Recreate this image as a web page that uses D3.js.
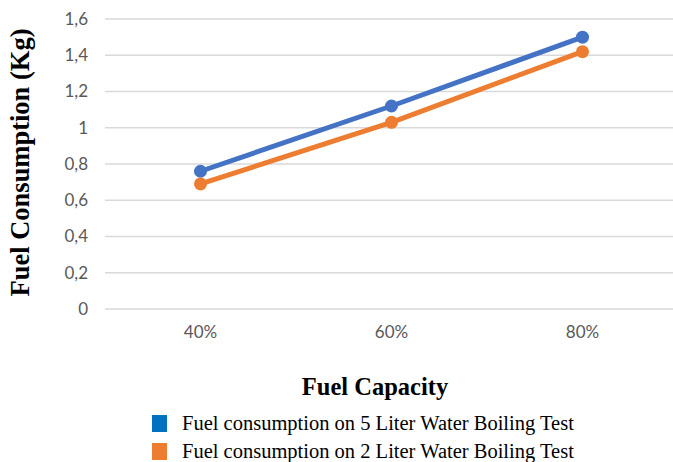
<!DOCTYPE html>
<html>
<head>
<meta charset="utf-8">
<script src="https://cdn.jsdelivr.net/npm/d3@7"></script>
<style>
  html, body { margin: 0; padding: 0; background: #fff; }
  svg { display: block; }
</style>
</head>
<body>
<svg id="chart" width="673" height="462"></svg>
<script>
// Fuel consumption by fuel capacity for two water boiling tests
const categories = ["40%", "60%", "80%"];
const seriesNames = [
  "Fuel consumption on 5 Liter Water Boiling Test",
  "Fuel consumption on 2 Liter Water Boiling Test"
];
const fiveLiter = [0.76, 1.12, 1.5];
const twoLiter = [0.69, 1.03, 1.42];
const yTicks = [0, 0.2, 0.4, 0.6, 0.8, 1, 1.2, 1.4, 1.6];

const lineColors = ["#4472C4", "#ED7D31"];
const legendColors = ["#0070C0", "#ED7D31"];

const svg = d3.select("#chart");
const plot = { left: 105, right: 678, top: 19, bottom: 309 };

const x = d3.scaleBand().domain(categories).range([plot.left, plot.right]);
const y = d3.scaleLinear().domain([0, 1.6]).range([plot.bottom, plot.top]);

const fmt = v => String(v).replace(".", ",");
const tickFont = "Lato, 'Open Sans', sans-serif";
const serif = "'Liberation Serif', 'Times New Roman', serif";

// horizontal gridlines
svg.append("g")
  .selectAll("line")
  .data(yTicks)
  .join("line")
  .attr("x1", plot.left).attr("x2", 673)
  .attr("y1", d => y(d)).attr("y2", d => y(d))
  .attr("stroke", "#d9d9d9").attr("stroke-width", 1.3);

// y axis tick labels
const yAxis = svg.append("g")
  .attr("transform", `translate(${plot.left - 17},0)`)
  .call(d3.axisLeft(y).tickValues(yTicks).tickFormat(fmt).tickSize(0).tickPadding(0));
yAxis.select(".domain").remove();
yAxis.selectAll("text")
  .attr("font-family", tickFont)
  .attr("font-size", 17)
  .attr("fill", "#595959");

// x axis tick labels
const xAxis = svg.append("g")
  .attr("transform", `translate(0,${plot.bottom + 17})`)
  .call(d3.axisBottom(x).tickSize(0).tickPadding(0));
xAxis.select(".domain").remove();
xAxis.selectAll("text")
  .attr("font-family", tickFont)
  .attr("font-size", 17)
  .attr("fill", "#595959");

// series lines and markers
const line = d3.line()
  .x((d, i) => x(categories[i]) + x.bandwidth() / 2)
  .y(d => y(d));

[fiveLiter, twoLiter].forEach((vals, s) => {
  const g = svg.append("g");
  g.append("path")
    .datum(vals)
    .attr("d", line)
    .attr("fill", "none")
    .attr("stroke", lineColors[s])
    .attr("stroke-width", 5)
    .attr("stroke-linejoin", "round");
  g.selectAll("circle")
    .data(vals)
    .join("circle")
    .attr("cx", (d, i) => x(categories[i]) + x.bandwidth() / 2)
    .attr("cy", d => y(d))
    .attr("r", 6.5)
    .attr("fill", lineColors[s]);
});

// axis titles
svg.append("text")
  .attr("transform", `translate(29,${(plot.top + plot.bottom) / 2 - 1.5}) rotate(-90)`)
  .attr("text-anchor", "middle")
  .attr("font-family", serif)
  .attr("font-weight", "bold")
  .attr("font-size", 26.5)
  .attr("fill", "#000")
  .text("Fuel Consumption (Kg)");

svg.append("text")
  .attr("x", 375)
  .attr("y", 395)
  .attr("text-anchor", "middle")
  .attr("font-family", serif)
  .attr("font-weight", "bold")
  .attr("font-size", 24.5)
  .attr("fill", "#000")
  .text("Fuel Capacity");

// legend
const legend = svg.append("g");
seriesNames.forEach((name, i) => {
  const row = legend.append("g").attr("transform", `translate(152,${415 + i * 28})`);
  row.append("rect")
    .attr("width", 15).attr("height", 17)
    .attr("fill", legendColors[i]);
  row.append("text")
    .attr("x", 30).attr("y", 15)
    .attr("font-family", serif)
    .attr("font-size", 20.5)
    .attr("fill", "#000")
    .text(name);
});
</script>
</body>
</html>
